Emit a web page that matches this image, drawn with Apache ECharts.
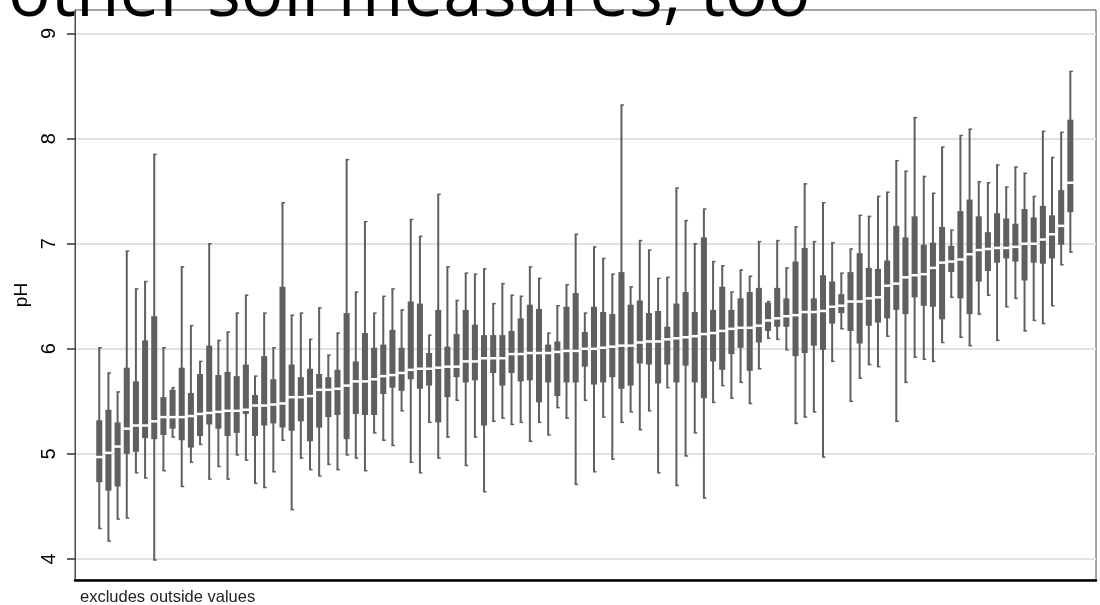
<!DOCTYPE html>
<html>
<head>
<meta charset="utf-8">
<script src="https://cdn.jsdelivr.net/npm/echarts@6/dist/echarts.min.js"></script>
<style>
  html, body { margin: 0; padding: 0; background: #fff; }
  #chart { width: 1100px; height: 605px; }
</style>
</head>
<body>
<div id="chart"></div>
<script>
// Soil pH by site, sites ordered by median pH (adjacent values only, outside values excluded)
const lowWhisker = [
  4.29, 4.17, 4.38, 4.39, 4.82, 4.77, 3.99, 4.84, 5.16, 4.69,
  4.92, 5.09, 4.76, 4.88, 4.76, 4.99, 4.94, 4.72, 4.68, 4.83,
  5.13, 4.47, 4.96, 4.85, 4.79, 4.90, 4.85, 4.99, 4.96, 4.84,
  5.20, 5.13, 5.08, 5.41, 4.92, 4.82, 5.30, 4.96, 5.16, 5.51,
  4.89, 5.16, 4.64, 5.31, 5.34, 5.28, 5.30, 5.12, 5.30, 5.18,
  5.44, 5.34, 4.71, 5.51, 4.83, 5.35, 4.95, 5.30, 5.40, 5.23,
  5.41, 4.82, 5.63, 4.70, 4.98, 5.20, 4.58, 5.49, 5.65, 5.53,
  5.68, 5.48, 5.81, 6.10, 6.09, 5.99, 5.29, 5.35, 5.40, 4.97,
  5.88, 6.19, 5.50, 5.72, 5.85, 5.83, 6.12, 5.31, 5.68, 5.92,
  5.90, 5.88, 6.06, 6.49, 6.11, 6.03, 6.33, 6.51, 6.08, 6.40,
  6.48, 6.17, 6.27, 6.24, 6.41, 6.80, 6.92
];
const lowerQuartile = [
  4.73, 4.65, 4.69, 5.00, 5.02, 5.15, 5.14, 5.18, 5.24, 5.13,
  5.06, 5.17, 5.28, 5.24, 5.17, 5.20, 5.38, 5.17, 5.27, 5.29,
  5.25, 5.22, 5.31, 5.12, 5.25, 5.35, 5.37, 5.14, 5.38, 5.37,
  5.37, 5.57, 5.63, 5.60, 5.71, 5.62, 5.65, 5.30, 5.54, 5.73,
  5.68, 5.70, 5.27, 5.77, 5.65, 5.77, 5.69, 5.70, 5.49, 5.68,
  5.55, 5.68, 5.68, 5.83, 5.66, 5.68, 5.73, 5.62, 5.65, 5.86,
  5.85, 5.67, 5.85, 5.68, 5.84, 5.68, 5.53, 5.88, 5.80, 5.95,
  6.01, 5.79, 6.06, 6.17, 6.21, 6.21, 5.93, 5.96, 6.03, 5.99,
  6.24, 6.34, 6.17, 6.05, 6.22, 6.25, 6.29, 6.37, 6.33, 6.49,
  6.41, 6.40, 6.28, 6.73, 6.48, 6.33, 6.64, 6.74, 6.82, 6.86,
  6.83, 6.65, 6.82, 6.81, 6.86, 6.99, 7.30
];
const median = [
  4.97, 5.01, 5.07, 5.24, 5.27, 5.27, 5.31, 5.35, 5.35, 5.35,
  5.36, 5.38, 5.39, 5.40, 5.41, 5.41, 5.42, 5.46, 5.46, 5.47,
  5.48, 5.54, 5.54, 5.55, 5.61, 5.61, 5.62, 5.65, 5.69, 5.69,
  5.71, 5.74, 5.75, 5.77, 5.80, 5.81, 5.81, 5.82, 5.83, 5.83,
  5.88, 5.88, 5.91, 5.91, 5.91, 5.95, 5.95, 5.96, 5.96, 5.96,
  5.97, 5.98, 5.98, 6.00, 6.00, 6.01, 6.02, 6.03, 6.03, 6.06,
  6.07, 6.07, 6.09, 6.10, 6.11, 6.12, 6.14, 6.15, 6.17, 6.19,
  6.20, 6.20, 6.22, 6.27, 6.29, 6.31, 6.32, 6.35, 6.35, 6.36,
  6.40, 6.41, 6.45, 6.45, 6.48, 6.49, 6.60, 6.62, 6.68, 6.70,
  6.71, 6.77, 6.82, 6.83, 6.85, 6.90, 6.94, 6.95, 6.96, 6.96,
  6.97, 7.00, 7.00, 7.04, 7.09, 7.17, 7.58
];
const upperQuartile = [
  5.32, 5.42, 5.30, 5.82, 5.69, 6.08, 6.31, 5.54, 5.61, 5.82,
  5.58, 5.76, 6.03, 5.75, 5.78, 5.74, 5.85, 5.56, 5.93, 5.71,
  6.59, 5.85, 5.73, 5.81, 5.76, 5.73, 5.80, 6.34, 5.88, 6.15,
  6.01, 6.04, 6.18, 6.01, 6.45, 6.43, 5.96, 6.37, 6.02, 6.14,
  6.37, 6.23, 6.13, 6.13, 6.13, 6.17, 6.29, 6.42, 6.38, 6.04,
  6.07, 6.40, 6.53, 6.16, 6.40, 6.35, 6.33, 6.73, 6.42, 6.46,
  6.34, 6.36, 6.21, 6.43, 6.54, 6.35, 7.06, 6.37, 6.59, 6.37,
  6.48, 6.54, 6.58, 6.44, 6.58, 6.48, 6.83, 6.96, 6.48, 6.70,
  6.64, 6.52, 6.73, 6.91, 6.77, 6.76, 6.84, 7.17, 7.06, 7.26,
  6.99, 7.01, 7.16, 6.98, 7.31, 7.42, 7.26, 7.11, 7.29, 7.24,
  7.19, 7.33, 7.25, 7.36, 7.27, 7.51, 8.18
];
const highWhisker = [
  6.01, 5.77, 5.59, 6.93, 6.57, 6.64, 7.85, 6.01, 5.63, 6.78,
  6.22, 5.88, 7.00, 6.08, 6.16, 6.34, 6.51, 5.74, 6.34, 6.01,
  7.39, 6.32, 6.34, 6.09, 6.39, 5.94, 6.15, 7.80, 6.54, 7.21,
  6.34, 6.50, 6.57, 6.37, 7.23, 7.07, 6.13, 7.47, 6.78, 6.46,
  6.72, 6.71, 6.76, 6.43, 6.62, 6.51, 6.50, 6.78, 6.67, 6.15,
  6.41, 6.61, 7.09, 6.34, 6.97, 6.86, 6.71, 8.32, 6.59, 7.03,
  6.94, 6.67, 6.68, 7.53, 7.22, 7.00, 7.33, 6.83, 6.79, 6.54,
  6.75, 6.69, 7.02, 6.45, 7.03, 6.77, 7.16, 7.57, 7.02, 7.39,
  7.01, 6.72, 6.95, 7.27, 7.26, 7.45, 7.49, 7.79, 7.69, 8.20,
  7.64, 7.48, 7.92, 7.13, 8.03, 8.09, 7.59, 7.58, 7.75, 7.54,
  7.73, 7.67, 7.45, 8.07, 7.82, 8.06, 8.64
];
const yTicks = [4, 5, 6, 7, 8, 9];

const titleText = 'other soil measures, too';
const noteText = 'excludes outside values';

const BOX_COLOR = '#5f5f5f';

// one row per site: [position, low, q1, median, q3, high]
const boxData = median.map((m, i) => [
  i, lowWhisker[i], lowerQuartile[i], m, upperQuartile[i], highWhisker[i]
]);

function renderBox(params, api) {
  const x = api.value(0);
  const lo = api.coord([x, api.value(1)]);
  const q1 = api.coord([x, api.value(2)]);
  const md = api.coord([x, api.value(3)]);
  const q3 = api.coord([x, api.value(4)]);
  const hi = api.coord([x, api.value(5)]);
  const bw = api.size([0.66, 0])[0];
  const cx = md[0];
  return {
    type: 'group',
    children: [
      { type: 'line', shape: { x1: cx, y1: lo[1], x2: cx, y2: hi[1] },
        style: { stroke: BOX_COLOR, lineWidth: 2 } },
      { type: 'line', shape: { x1: cx - 1, y1: lo[1], x2: cx + 2.5, y2: lo[1] },
        style: { stroke: BOX_COLOR, lineWidth: 1.5 } },
      { type: 'line', shape: { x1: cx - 1, y1: hi[1], x2: cx + 2.5, y2: hi[1] },
        style: { stroke: BOX_COLOR, lineWidth: 1.5 } },
      { type: 'rect', shape: { x: cx - bw / 2, y: q3[1], width: bw, height: q1[1] - q3[1] },
        style: { fill: BOX_COLOR } },
      { type: 'rect', shape: { x: cx - bw / 2 - 0.5, y: md[1] - 1.25, width: bw + 1, height: 2.5 },
        style: { fill: '#ffffff' } }
    ]
  };
}

const chart = echarts.init(document.getElementById('chart'), null, { renderer: 'canvas' });
chart.setOption({
  animation: false,
  backgroundColor: '#ffffff',
  grid: {
    left: 75, right: 4, top: 10, bottom: 25,
    show: true, borderColor: '#4a4a4a', borderWidth: 1, backgroundColor: 'transparent'
  },
  title: {
    text: titleText,
    left: 3,
    top: -45,
    textStyle: { fontFamily: '"Open Sans"', fontSize: 71, fontWeight: 'normal', color: '#000' }
  },
  graphic: [{
    type: 'text',
    left: 80,
    top: 589,
    style: { text: noteText, font: '16.5px "Liberation Sans"', fill: '#222' }
  }],
  xAxis: {
    type: 'value',
    min: -2.65,
    max: 108.8,
    axisLine: { show: true, onZero: false, lineStyle: { color: '#000', width: 2.5 } },
    axisTick: { show: false },
    axisLabel: { show: false },
    splitLine: { show: false }
  },
  yAxis: {
    type: 'value',
    min: 3.8,
    max: 9.224,
    name: 'pH',
    nameLocation: 'middle',
    nameRotate: 90,
    nameGap: 38,
    nameTextStyle: { fontFamily: '"Liberation Sans"', fontSize: 19, color: '#000' },
    axisLine: { show: true, onZero: false, lineStyle: { color: '#4a4a4a', width: 1 } },
    axisTick: { show: true, length: 8, customValues: yTicks, lineStyle: { color: '#333', width: 1.5 } },
    axisLabel: {
      customValues: yTicks,
      rotate: 90,
      margin: 16,
      fontFamily: '"Liberation Sans"',
      fontSize: 20,
      color: '#000'
    },
    splitLine: { show: true, lineStyle: { color: '#e2e2e2', width: 2 } }
  },
  series: [{
    type: 'custom',
    renderItem: renderBox,
    encode: { x: 0, y: [1, 2, 3, 4, 5] },
    data: boxData,
    clip: false
  }]
});
</script>
</body>
</html>
